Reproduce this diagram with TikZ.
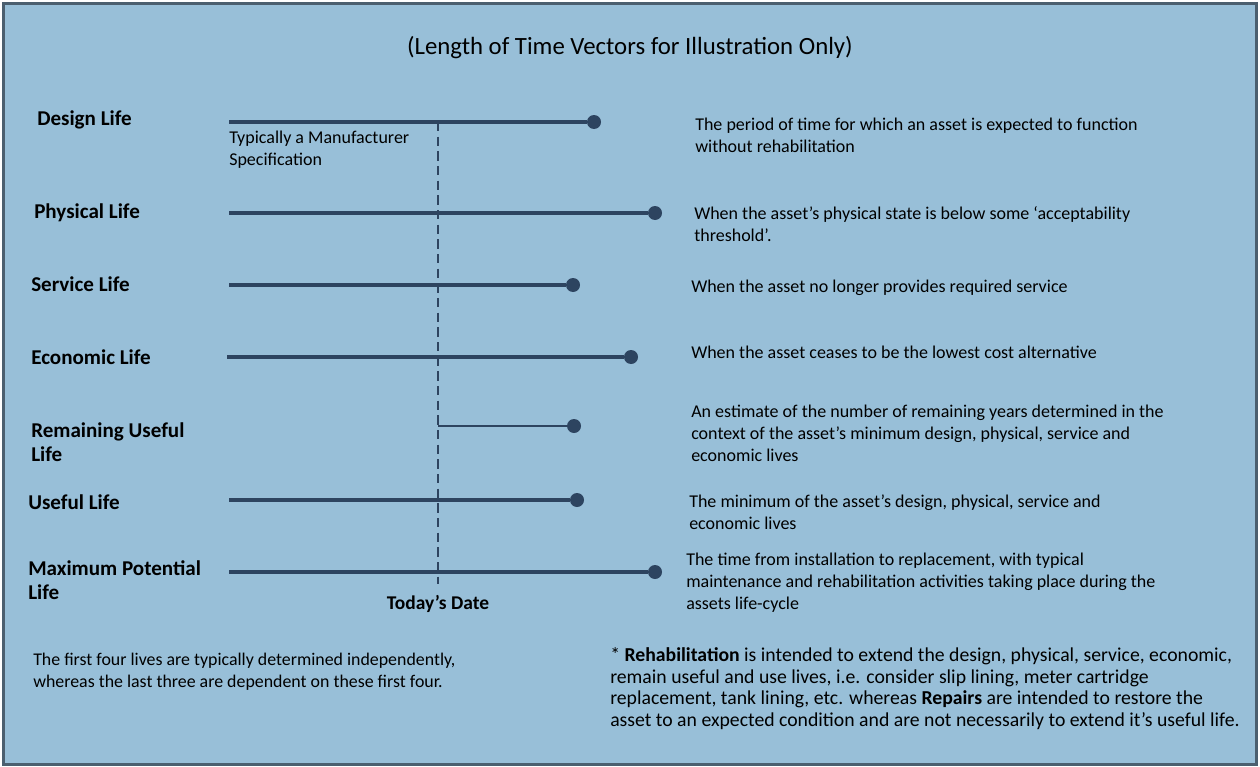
\documentclass[tikz,border=0pt]{standalone}
\usepackage{fontspec}
\setmainfont{Carlito}
\usetikzlibrary{positioning}

\definecolor{panel}{HTML}{98BFD8}
\definecolor{rim}{HTML}{4B5F6F}
\definecolor{vector}{HTML}{2D4460}

\tikzset{
	life/.style={line width=2.4pt, color=vector},
	endpoint/.style={circle, fill=vector, inner sep=0pt, minimum size=10.5pt},
	lifename/.style={anchor=west, inner sep=0pt, align=left, font=\fontsize{15.8}{18}\selectfont\bfseries},
	meaning/.style={anchor=west, inner sep=0pt, align=left, font=\fontsize{13.5}{16.5}\selectfont},
	note/.style={anchor=north west, inner sep=0pt, align=left, font=\fontsize{13.4}{16.3}\selectfont}
}

\begin{document}
\begin{tikzpicture}[x=0.75pt, y=-0.75pt]
			%%%%% FRAME %%%%%
			\useasboundingbox (0, 0) rectangle (1260, 767);
			\draw[line width=2.4pt, draw=rim, fill=panel] (3.5, 3.5) rectangle (1256.5, 764.5);
			
			\node (title) at (630, 48) {\fontsize{18.6}{22}\selectfont (Length of Time Vectors for Illustration Only)};
			
			%%%%% NAMES %%%%%
			\node[lifename] (design) at (37, 120) {Design Life};
			\node[lifename] (physical) at (34, 213) {Physical Life};
			\node[lifename] (service) at (31, 284) {Service Life};
			\node[lifename] (economic) at (31, 357) {Economic Life};
			\node[lifename] (remaining) at (31, 442) {Remaining Useful\\Life};
			\node[lifename] (useful) at (28, 502) {Useful Life};
			\node[lifename] (maximum) at (28, 580) {Maximum Potential\\Life};
			
			%%%%% VECTORS %%%%%
			\coordinate (design-a) at (229, 122);
			\node[endpoint] (design-b) at (594, 122) {};
			\draw[life] (design-a) -- (design-b);
			
			\coordinate (physical-a) at (229, 213);
			\node[endpoint] (physical-b) at (655, 213) {};
			\draw[life] (physical-a) -- (physical-b);
			
			\coordinate (service-a) at (229, 285);
			\node[endpoint] (service-b) at (573, 285) {};
			\draw[life] (service-a) -- (service-b);
			
			\coordinate (economic-a) at (227, 357);
			\node[endpoint] (economic-b) at (631, 357) {};
			\draw[life] (economic-a) -- (economic-b);
			
			\coordinate (remaining-a) at (438, 426);
			\node[endpoint] (remaining-b) at (574, 426) {};
			\draw[life, line width=1.5pt] (remaining-a) -- (remaining-b);
			
			\coordinate (useful-a) at (229, 500);
			\node[endpoint] (useful-b) at (577, 500) {};
			\draw[life] (useful-a) -- (useful-b);
			
			\coordinate (maximum-a) at (229, 572);
			\node[endpoint] (maximum-b) at (655, 572) {};
			\draw[life] (maximum-a) -- (maximum-b);
			
			%%%%% TODAY %%%%%
			\coordinate (today-top) at (438, 122);
			\coordinate (today-bot) at (438, 584);
			\draw[line width=1.8pt, color=vector, dash pattern=on 7pt off 4pt] (today-top) -- (today-bot);
			\node[font=\fontsize{14.6}{16}\selectfont\bfseries, inner sep=0pt] (today) at (438, 604) {Today’s Date};
			
			\node[meaning] (maker) at (229, 150) {Typically a Manufacturer\\Specification};
			
			%%%%% MEANINGS %%%%%
			\node[meaning] (design-txt) at (695, 135) {The period of time for which an asset is expected to function\\without rehabilitation};
			\node[meaning] (physical-txt) at (694, 224) {When the asset’s physical state is below some ‘acceptability\\threshold’.};
			\node[meaning] (service-txt) at (691, 288) {When the asset no longer provides required service};
			\node[meaning] (economic-txt) at (691, 352) {When the asset ceases to be the lowest cost alternative};
			\node[meaning] (remaining-txt) at (691, 433) {An estimate of the number of remaining years determined in the\\context of the asset's minimum design, physical, service and\\economic lives};
			\node[meaning] (useful-txt) at (689, 512) {The minimum of the asset's design, physical, service and\\economic lives};
			\node[meaning] (maximum-txt) at (686, 583) {The time from installation to replacement, with typical\\maintenance and rehabilitation activities taking place during the\\assets life-cycle};
			
			%%%%% NOTES %%%%%
			\node[note] (independent) at (33, 653) {The first four lives are typically determined independently,\\whereas the last three are dependent on these first four.};
			\node[note, font=\fontsize{14.8}{16.3}\selectfont] (rehab) at (610, 647) {* \textbf{Rehabilitation} is intended to extend the design, physical, service, economic,\\remain useful and use lives, i.e. consider slip lining, meter cartridge\\replacement, tank lining, etc. whereas \textbf{Repairs} are intended to restore the\\asset to an expected condition and are not necessarily to extend it’s useful life.};
		\end{tikzpicture}
\end{document}
